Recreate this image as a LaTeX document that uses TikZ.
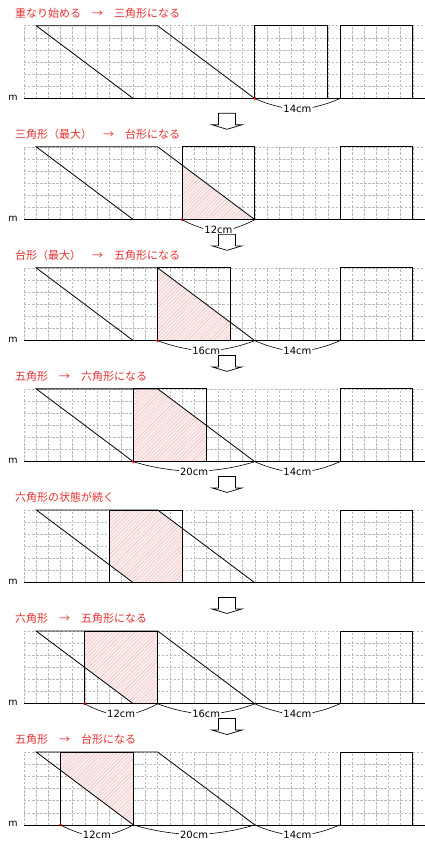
\documentclass[tikz,border=0pt]{standalone}
\usepackage{fontspec}
\setmainfont{DejaVu Sans}
\newfontfamily\jpfont{Noto Sans CJK JP}
\usetikzlibrary{patterns.meta}

\definecolor{titlered}{RGB}{228,48,48}
\definecolor{gridgray}{RGB}{185,185,185}
\definecolor{hatchpink}{RGB}{251,238,238}
\definecolor{hatchred}{RGB}{232,170,170}

\begin{document}
\begin{tikzpicture}[x=1pt, y=1pt,
  gridline/.style={gridgray, line width=0.45pt, dash pattern=on 2.4pt off 1.65pt},
  edge/.style={black, line width=0.8pt},
  hatched/.style={fill=hatchpink, postaction={pattern={Lines[angle=45,distance=2.6pt,line width=0.25pt]}, pattern color=hatchred}},
  title/.style={font=\jpfont\fontsize{11}{13}\selectfont, text=titlered, anchor=west, inner sep=0pt},
  mlab/.style={font=\fontsize{9.5}{11}\selectfont, anchor=base east, inner sep=0pt},
  dimlab/.style={font=\fontsize{10}{12}\selectfont, inner sep=1pt},
  dimline/.style={line width=0.6pt},
  reddot/.style={circle, fill=red, inner sep=0pt, minimum size=3pt},
  blockarrow/.style={draw=black, fill=white, line width=0.7pt}]

\useasboundingbox (0,0) rectangle (425,-848);

% one panel per step: grid, parallelogram, moving square, fixed square
\foreach \k/\r/\ttl in {
  1/19/{重なり始める　→　三角形になる},
  2/13/{三角形（最大）　→　台形になる},
  3/11/{台形（最大）　→　五角形になる},
  4/9/{五角形　→　六角形になる},
  5/7/{六角形の状態が続く},
  6/5/{六角形　→　五角形になる},
  7/3/{五角形　→　台形になる}%
}{
  \begin{scope}[shift={(24,{-98.6-121.05*(\k-1)})}, x=12.15pt, y=12.15pt]
    \node[title] (t\k) at (-0.74,7.03) {\ttl};
    \foreach \c in {0,...,33}
      \draw[gridline] (\c,0) -- (\c,6);
    \foreach \w in {1,...,6}
      \draw[gridline] (0,\w) -- (33,\w);

    \begin{scope}
      \clip (\r,0) rectangle ++(6,6);
      \fill[hatched] (9,0) -- (1,6) -- (11,6) -- (19,0) -- cycle;
    \end{scope}

    \draw[edge] (0,0) -- (33,0);
    \node[mlab] (m\k) at (-0.5,-0.17) {m};
    \draw[edge] (9,0) -- (1,6) -- (11,6) -- (19,0);
    \draw[edge] (\r,0) rectangle ++(6,6);
    \draw[edge] (26,0) rectangle (32,6);
    \ifnum\k=5\else
      \node[reddot] (dot\k) at (\r,0) {};
    \fi
  \end{scope}
}

% lengths under the line m
\foreach \k/\a/\b/\len in {
  1/19/26/14, 2/13/19/12,
  3/11/19/16, 3/19/26/14,
  4/9/19/20, 4/19/26/14,
  6/5/11/12, 6/11/19/16, 6/19/26/14,
  7/3/9/12, 7/9/19/20, 7/19/26/14%
}{
  \begin{scope}[shift={(24,{-98.6-121.05*(\k-1)})}, x=12.15pt, y=12.15pt]
    \coordinate (s\k-\a) at (\a,0);
    \coordinate (e\k-\a) at (\b,0);
    \node[dimlab] (d\k-\a) at ({(\a+\b)/2},-0.85) {\len cm};
    \draw[dimline] (s\k-\a) to[bend right=5] ([yshift=1.5pt]d\k-\a.west);
    \draw[dimline] ([yshift=1.5pt]d\k-\a.east) to[bend right=5] (e\k-\a);
  \end{scope}
}

% hollow arrows between the steps
\foreach \j in {1,...,6}{
  \pgfmathsetmacro\ya{-113.3-121.05*(\j-1)}
  \draw[blockarrow] (218.5,\ya) -- (235.5,\ya) -- ++(0,-11.5) -- ++(6.5,0)
    -- ++(-15,-4.5) -- ++(-15,4.5) -- ++(6.5,0) -- cycle;
}

\end{tikzpicture}
\end{document}
